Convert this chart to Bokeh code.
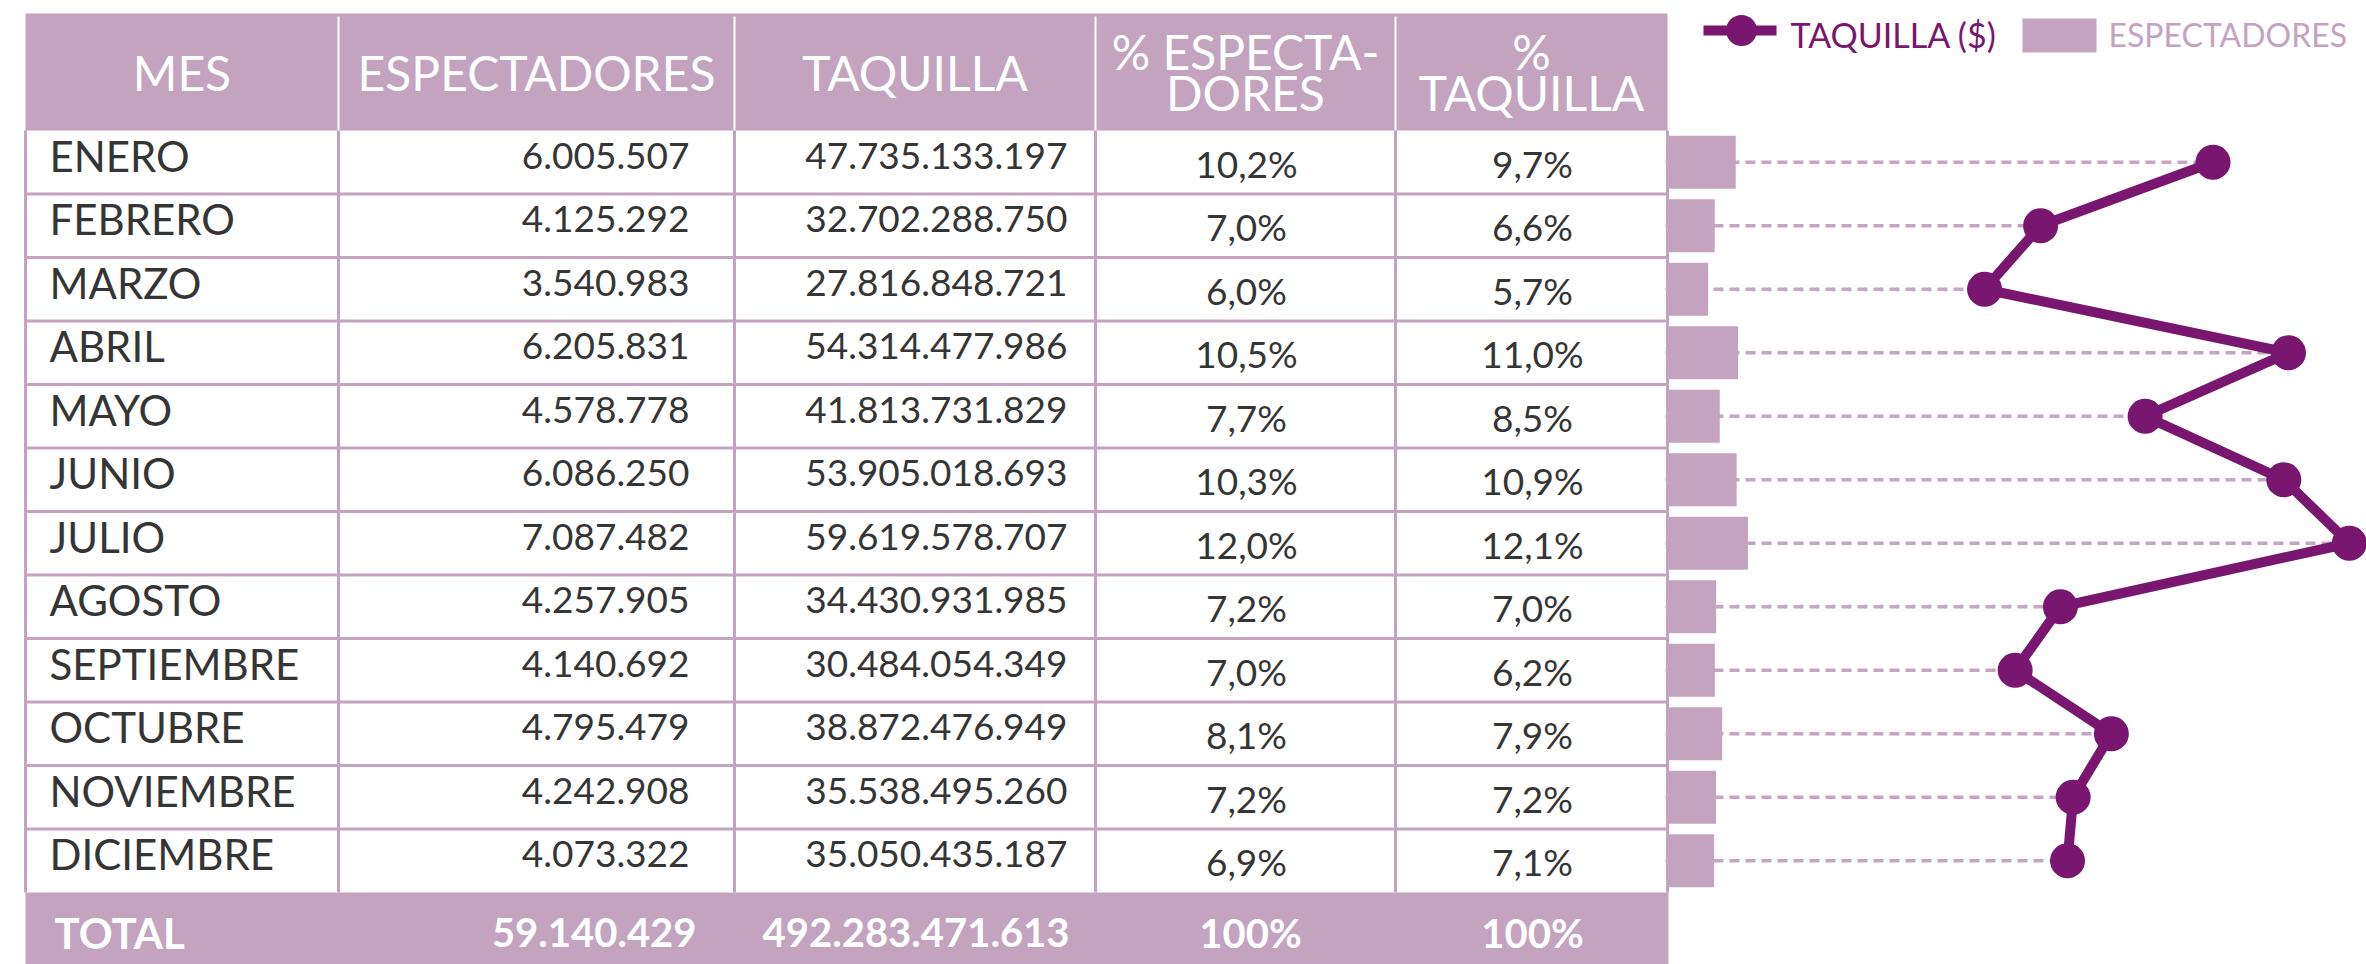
from bokeh.plotting import figure
from bokeh.models import Range1d
from bokeh.core.properties import value
from bokeh.embed import file_html
from bokeh.resources import INLINE

# ---------------- data ----------------
MESES = ["ENERO", "FEBRERO", "MARZO", "ABRIL", "MAYO", "JUNIO", "JULIO",
         "AGOSTO", "SEPTIEMBRE", "OCTUBRE", "NOVIEMBRE", "DICIEMBRE"]
ESPECTADORES = [6005507, 4125292, 3540983, 6205831, 4578778, 6086250,
                7087482, 4257905, 4140692, 4795479, 4242908, 4073322]
TAQUILLA = [47735133197, 32702288750, 27816848721, 54314477986, 41813731829,
            53905018693, 59619578707, 34430931985, 30484054349, 38872476949,
            35538495260, 35050435187]
PCT_ESP = [10.2, 7.0, 6.0, 10.5, 7.7, 10.3, 12.0, 7.2, 7.0, 8.1, 7.2, 6.9]
PCT_TAQ = [9.7, 6.6, 5.7, 11.0, 8.5, 10.9, 12.1, 7.0, 6.2, 7.9, 7.2, 7.1]
TOTAL_LABEL = "TOTAL"
TOTAL_ESP = 59140429
TOTAL_TAQ = 492283471613
TOTAL_PCT = ["100%", "100%"]
HEADERS = [["MES"], ["ESPECTADORES"], ["TAQUILLA"], ["% ESPECTA-", "DORES"], ["%", "TAQUILLA"]]
LEGEND_LINE = "TAQUILLA ($)"
LEGEND_BAR = "ESPECTADORES"

# ---------------- styles / layout ----------------
MAUVE = "#c4a3bf"
DASH = "#c6a5c2"
PURPLE = "#791670"
DARK = "#353535"
FONT = value("Lato")

W, H = 2366, 964
COLS = [25, 338, 734, 1095, 1395, 1667]
HEAD_TOP, HEAD_BOT = 13, 130
ROW_H = 63.5
N = len(MESES)
TOTAL_TOP = HEAD_BOT + N * ROW_H

BAR_ORIGIN, BAR_PX = 1668, 11.2 / 1e6       # px per spectator
LINE_ORIGIN, LINE_PX = 1665, 11.47 / 1e9    # px per peso


def miles(n):
    return f"{n:,}".replace(",", ".")


def pct(v):
    return f"{v:.1f}".replace(".", ",") + "%"


p = figure(width=W, height=H, x_range=Range1d(0, W), y_range=Range1d(H, 0),
           output_backend="svg", toolbar_location=None, min_border=0,
           x_axis_location=None, y_axis_location=None)
p.grid.visible = False
p.outline_line_color = None
p.background_fill_color = "white"
p.border_fill_color = "white"
p.extra_x_ranges = {
    "esp": Range1d(-BAR_ORIGIN / BAR_PX, (W - BAR_ORIGIN) / BAR_PX),
    "taq": Range1d(-LINE_ORIGIN / LINE_PX, (W - LINE_ORIGIN) / LINE_PX),
}

yc = [HEAD_BOT + ROW_H * (i + 0.5) for i in range(N)]


def txt(x, y, t, size, color, align, bold=False):
    p.text(x=x, y=y, text=t, text_font=FONT, text_font_size=size,
           text_font_style="bold" if bold else "normal", text_color=color,
           text_align=align, text_baseline="middle")


# ---------------- table ----------------
p.quad(left=COLS[0], right=COLS[-1], top=HEAD_TOP, bottom=HEAD_BOT,
       fill_color=MAUVE, line_color=None)
p.quad(left=COLS[0], right=COLS[-1] + 1, top=TOTAL_TOP, bottom=H + 20,
       fill_color=MAUVE, line_color=None)

# header white dividers
p.segment(x0=COLS[1:-1], y0=[HEAD_TOP + 3] * 4, x1=COLS[1:-1], y1=[HEAD_BOT] * 4,
          line_color="white", line_width=2)
# body grid
row_lines = [HEAD_BOT + ROW_H * i for i in range(1, N)]
p.segment(x0=[COLS[0]] * len(row_lines), y0=row_lines, x1=[COLS[-1]] * len(row_lines),
          y1=row_lines, line_color=MAUVE, line_width=3)
p.segment(x0=COLS, y0=[HEAD_BOT] * len(COLS), x1=COLS, y1=[TOTAL_TOP] * len(COLS),
          line_color=MAUVE, line_width=3)

# header texts
centers = [(COLS[i] + COLS[i + 1]) / 2 for i in range(5)]
hx, hy, ht = [], [], []
for c, lines in zip(centers, HEADERS):
    if len(lines) == 1:
        hx.append(c); hy.append(72); ht.append(lines[0])
    else:
        hx += [c, c]; hy += [51, 92]; ht += lines
txt(hx, hy, ht, "48px", "white", "center")

# body texts
txt([49] * N, [y - 6.5 for y in yc], MESES, "42px", DARK, "left")
txt([689] * N, [y - 6.5 for y in yc], [miles(v) for v in ESPECTADORES], "37px", DARK, "right")
txt([1067] * N, [y - 6.5 for y in yc], [miles(v) for v in TAQUILLA], "37px", DARK, "right")
txt([1246] * N, [y + 1 for y in yc], [pct(v) for v in PCT_ESP], "37px", DARK, "center")
txt([1532] * N, [y + 1 for y in yc], [pct(v) for v in PCT_TAQ], "37px", DARK, "center")

# total row
txt([54], [932], [TOTAL_LABEL], "42px", "white", "left", bold=True)
txt([696, 1069], [932, 932], [miles(TOTAL_ESP), miles(TOTAL_TAQ)], "40px", "white",
    "right", bold=True)
txt([1250, 1532], [932, 932], TOTAL_PCT, "40px", "white", "center", bold=True)

# ---------------- chart ----------------
p.segment(x0=[0] * N, y0=yc, x1=TAQUILLA, y1=yc, x_range_name="taq",
          line_color=DASH, line_width=3.5, line_dash="10 6")
p.hbar(y=yc, left=0, right=ESPECTADORES, height=53, x_range_name="esp",
       fill_color=MAUVE, line_color=None)
p.line(x=TAQUILLA, y=yc, x_range_name="taq", line_color=PURPLE, line_width=10,
       line_join="round")
p.scatter(x=TAQUILLA, y=yc, x_range_name="taq", size=35, marker="circle",
          fill_color=PURPLE, line_color=None)

# ---------------- legend ----------------
p.segment(x0=[1703], y0=[30], x1=[1776], y1=[30], line_color=PURPLE, line_width=10)
p.scatter(x=[1741], y=[30], size=31, marker="circle", fill_color=PURPLE, line_color=None)
txt([1790], [33.5], [LEGEND_LINE], "34px", PURPLE, "left")
p.quad(left=[2022], right=[2096], top=[18], bottom=[52], fill_color=MAUVE, line_color=None)
txt([2108], [33.5], [LEGEND_BAR], "32px", MAUVE, "left")

open("out.html", "w").write(file_html(p, INLINE))
